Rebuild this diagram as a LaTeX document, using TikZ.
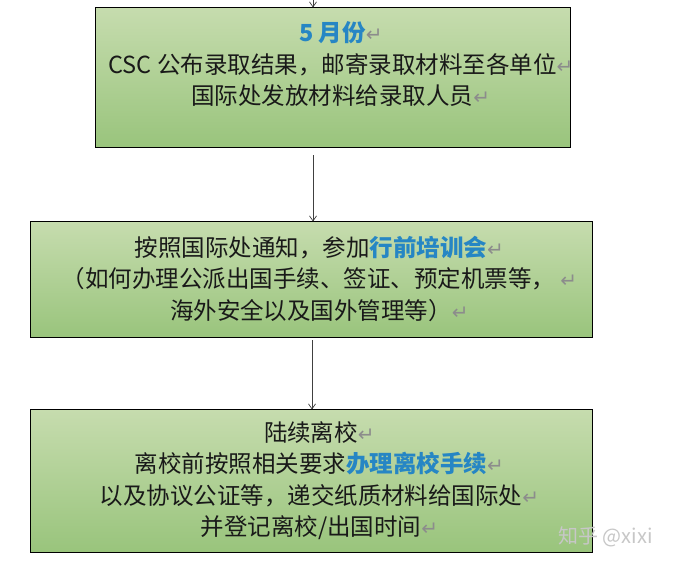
\documentclass[tikz,border=0pt]{standalone}
\usepackage{fontspec}
\setmainfont{Noto Sans CJK SC}
\newfontfamily\symfont{DejaVu Sans}
\usetikzlibrary{arrows.meta}
\definecolor{hl}{RGB}{38,134,196}
\definecolor{gtop}{RGB}{198,220,174}
\definecolor{gbot}{RGB}{153,196,124}
\definecolor{pm}{RGB}{140,140,140}
\newcommand{\pmark}{\makebox[0pt][l]{\symfont\color{pm}\fontsize{20}{20}\selectfont ↵}}
\begin{document}
\begin{tikzpicture}[x=1pt,y=1pt,
  stepbox/.style={draw=black, line width=1pt, top color=gtop, bottom color=gbot, inner sep=0pt},
  boxtext/.style={align=center, font=\fontsize{23.5}{31.5}\selectfont, text=black!90, inner sep=0pt},
  arr/.style={-{Straight Barb[length=5pt,width=7pt]}, line width=0.7pt, draw=black!75}]
\fill[white] (0,0) rectangle (678,563);
\useasboundingbox (0,0) rectangle (678,563);
\node[stepbox, minimum width=475pt, minimum height=140pt] (b1) at (332.5,485) {};
\node[stepbox, minimum width=562pt, minimum height=116pt] (b2) at (311,283) {};
\node[stepbox, minimum width=562pt, minimum height=142pt] (b3) at (311,82) {};
\node[boxtext] (t1) at (332.5,499) {{\bfseries\color{hl}5 月份}\pmark\\CSC 公布录取结果，邮寄录取材料至各单位\pmark\\国际处发放材料给录取人员\pmark};
\node[boxtext] (t2) at (311,284.5) {按照国际处通知，参加{\bfseries\color{hl}行前培训会}\pmark\\（如何办理公派出国手续、签证、预定机票等， \pmark\\海外安全以及国外管理等）\pmark};
\node[boxtext] (t3) at (311,82.5) {陆续离校\pmark\\离校前按照相关要求{\bfseries\color{hl}办理离校手续}\pmark\\以及协议公证等，递交纸质材料给国际处\pmark\\并登记离校/出国时间\pmark};
\coordinate (top) at (313,563);
\draw[arr] (top) -- (b1.north -| top);
\draw[arr, shorten <=7pt] ([xshift=2pt]b2.north |- b1.south) -- ([xshift=2pt]b2.north);
\draw[arr, shorten <=2pt] ([xshift=1pt]b3.north |- b2.south) -- ([xshift=1pt]b3.north);
\node[font=\fontsize{20}{20}\selectfont, text=black!22, anchor=west, inner sep=0pt] (wm) at (558,26) {知乎 @xixi};
\end{tikzpicture}
\end{document}
